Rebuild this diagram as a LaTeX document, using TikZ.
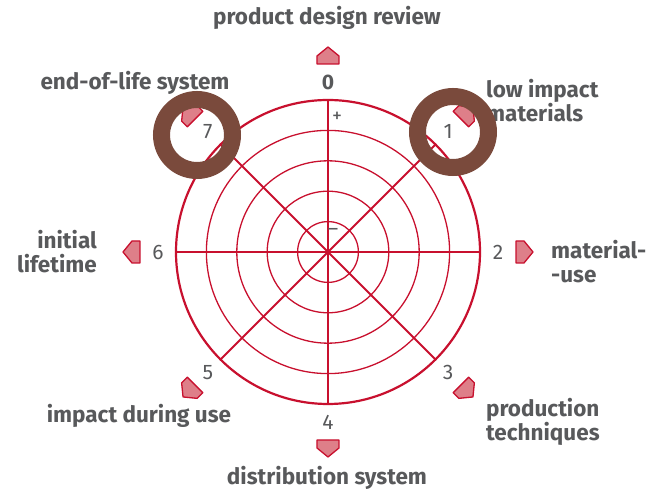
\documentclass[tikz,border=0pt]{standalone}
\usepackage{fontspec}
\setmainfont{Fira Sans}
\usetikzlibrary{positioning}

\definecolor{wheelred}{HTML}{C8102E}
\definecolor{markpink}{HTML}{DE7F89}
\definecolor{labelgray}{HTML}{58595B}
\definecolor{ringbrown}{HTML}{7A4A3C}

\tikzset{
  label text/.style={text=labelgray, font=\bfseries\fontsize{22.5}{24}\selectfont, inner sep=0pt},
  axis num/.style={text=labelgray, font=\fontsize{21}{24}\selectfont, inner sep=0pt},
  marker/.style={draw=wheelred, fill=markpink, line width=1.3pt, line join=round},
  ring/.style={draw=ringbrown, line width=17pt}
}

\begin{document}
\begin{tikzpicture}[x=1pt, y=1pt]
      \useasboundingbox (-328,252) rectangle (318,-240);
      % circles of the wheel
      \coordinate (c) at (0,0);
      \foreach \r in {30.4,60.8,91.2,121.6}
        \draw[wheelred, line width=1.3pt] (c) circle (\r);
      \draw[wheelred, line width=2.2pt] (c) circle (152);
      % spokes, numbers and markers
      \foreach \i in {0,...,7} {
        \pgfmathsetmacro{\ang}{90-45*\i}
        \coordinate (s\i) at (\ang:152);
        \draw[wheelred, line width=1.8pt] (c) -- (s\i);
        \ifnum\i=0
          \node[axis num, font=\bfseries\fontsize{21}{24}\selectfont] (n\i) at (\ang:170) {\i};
        \else
          \node[axis num] (n\i) at (\ang:170) {\i};
        \fi
        \draw[marker, shift={(\ang:196)}, rotate=\ang-90]
          (-11,-8) -- (11,-8) -- (11,0) -- (0,9) -- (-11,0) -- cycle;
      }
      \node[text=labelgray, font=\fontsize{20}{20}\selectfont, inner sep=0pt] (plus) at (9,135) {+};
      \node[text=labelgray, font=\fontsize{20}{20}\selectfont, inner sep=0pt] (minus) at (5,20) {–};
      % labels
      \node[label text] (l0) at (-1,234) {product design review};
      \node[label text, align=left, anchor=west] (l1) at (158,151) {low impact\\materials};
      \node[label text, align=left, anchor=west] (l2) at (223,-10) {material-\\-use};
      \node[label text, align=left, anchor=west] (l3) at (158,-170) {production\\techniques};
      \node[label text] (l4) at (-1,-226) {distribution system};
      \node[label text] (l5) at (-189,-164) {impact during use};
      \node[label text, align=right, anchor=east] (l6) at (-231,0) {initial\\lifetime};
      \node[label text] (l7) at (-193,169) {end-of-life system};
      % highlight rings
      \draw[ring] (-131,117) circle (35.5);
      \draw[ring] (125,120) circle (35.5);
    \end{tikzpicture}
\end{document}
